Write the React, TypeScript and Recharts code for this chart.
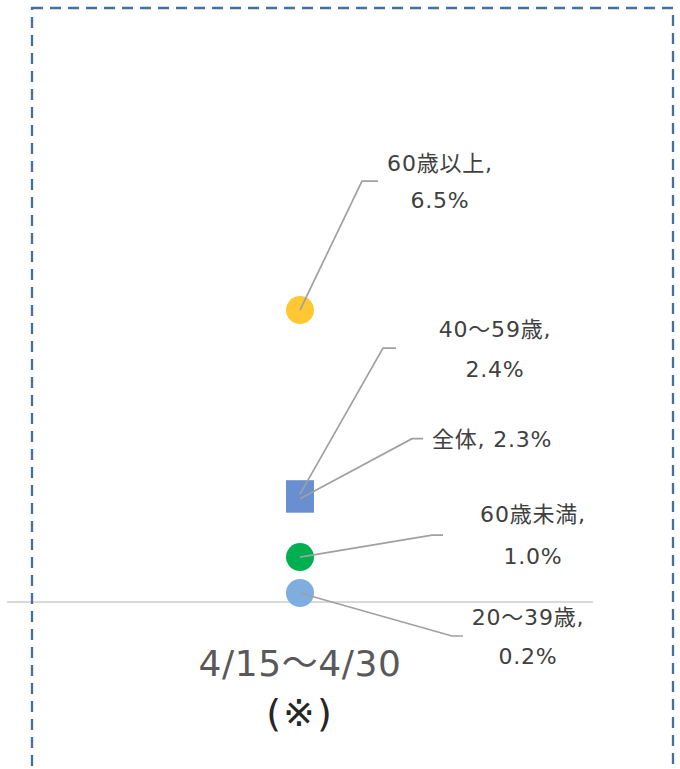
import React from "react";
import { ComposedChart, Scatter, XAxis, YAxis } from "recharts";

const categories = ["4/15～4/30"];
const subLabels = ["(※)"];

const over60 = [6.5];
const age40to59 = [2.4];
const total = [2.3];
const under60 = [1.0];
const age20to39 = [0.2];

const data = categories.map((c, i) => ({
  cat: c,
  over60: over60[i],
  age40to59: age40to59[i],
  total: total[i],
  under60: under60[i],
  age20to39: age20to39[i],
}));

const FONT = "'DejaVu Sans', 'Noto Sans CJK JP', sans-serif";
const LEADER = "#A0A0A0";
const TEXT = "#404040";

const circle = (color: string) => (p: any) => (
  <circle cx={p.cx} cy={p.cy} r={14} fill={color} />
);
const square = (color: string) => (p: any) => (
  <rect x={p.cx - 14} y={p.cy - 14} width={28} height={28} fill={color} />
);

// leader line + label, positions relative to the point
type LabelCfg = {
  elbow: [number, number];
  end: [number, number];
  tx: number;
  ty: number[];
  anchor?: "middle" | "start";
};

const labelShape = (cfg: LabelCfg, value: (p: any) => string[]) => (p: any) => {
  const { cx, cy } = p;
  const lines = value(p);
  return (
    <g>
      <polyline
        points={`${cx},${cy} ${cx + cfg.elbow[0]},${cy + cfg.elbow[1]} ${cx + cfg.end[0]},${cy + cfg.end[1]}`}
        fill="none"
        stroke={LEADER}
        strokeWidth={1.7}
      />
      {lines.map((t, i) => (
        <text
          key={i}
          x={cx + cfg.tx}
          y={cy + cfg.ty[i]}
          textAnchor={cfg.anchor || "middle"}
          dominantBaseline="central"
          fontFamily={FONT}
          fontSize={22}
          letterSpacing={0.8}
          fill={TEXT}
        >
          {t}
        </text>
      ))}
    </g>
  );
};

const pct = (v: number) => v.toFixed(1) + "%";

const CatTick = (props: any) => {
  const { x, y, payload, index } = props;
  return (
    <g>
      <text x={x} y={y + 53} textAnchor="middle" dominantBaseline="central" fontFamily={FONT} fontSize={36} letterSpacing={0.6} fill="#595959">
        {payload.value}
      </text>
      <text x={x} y={y + 103} textAnchor="middle" dominantBaseline="central" fontFamily={FONT} fontSize={38} letterSpacing={2} fill="#262626">
        {subLabels[index]}
      </text>
    </g>
  );
};

export default function App() {
  return (
    <div style={{ position: "absolute", left: 0, top: 0, width: 680, height: 769, background: "#fff" }}>
      <ComposedChart width={680} height={769} data={data} margin={{ top: 63, right: 87, bottom: 67, left: 7 }}>
        <XAxis
          dataKey="cat"
          height={100}
          tickLine={false}
          axisLine={{ stroke: "#D9D9D9", strokeWidth: 2 }}
          tick={<CatTick />}
          interval={0}
        />
        <YAxis hide domain={[0, 12]} />
        <Scatter dataKey="age40to59" isAnimationActive={false} shape={square("#6A8FD0")} />
        <Scatter dataKey="total" isAnimationActive={false} shape={square("#6A8FD0")} />
        <Scatter dataKey="under60" isAnimationActive={false} shape={circle("#00B050")} />
        <Scatter dataKey="age20to39" isAnimationActive={false} shape={circle("#7EADDF")} />
        <Scatter dataKey="over60" isAnimationActive={false} shape={circle("#FFC832")} />

        <Scatter
          dataKey="over60"
          isAnimationActive={false}
          shape={labelShape(
            { elbow: [62, -129], end: [78, -129], tx: 140, ty: [-147, -110] },
            (p) => ["60歳以上,", pct(p.payload.over60)]
          )}
        />
        <Scatter
          dataKey="age40to59"
          isAnimationActive={false}
          shape={labelShape(
            { elbow: [83, -146], end: [96, -146], tx: 195, ty: [-165, -125] },
            (p) => ["40～59歳,", pct(p.payload.age40to59)]
          )}
        />
        <Scatter
          dataKey="total"
          isAnimationActive={false}
          shape={labelShape(
            { elbow: [112, -60], end: [123, -60], tx: 132, ty: [-59], anchor: "start" },
            (p) => ["全体, " + pct(p.payload.total)]
          )}
        />
        <Scatter
          dataKey="under60"
          isAnimationActive={false}
          shape={labelShape(
            { elbow: [132, -22], end: [143, -22], tx: 233, ty: [-43, -1] },
            (p) => ["60歳未満,", pct(p.payload.under60)]
          )}
        />
        <Scatter
          dataKey="age20to39"
          isAnimationActive={false}
          shape={labelShape(
            { elbow: [152, 43], end: [163, 43], tx: 228, ty: [24, 63] },
            (p) => ["20～39歳,", pct(p.payload.age20to39)]
          )}
        />
      </ComposedChart>
      <svg width={680} height={769} style={{ position: "absolute", left: 0, top: 0, pointerEvents: "none" }}>
        <rect x={32} y={8} width={641} height={764} fill="none" stroke="#41719C" strokeWidth={2.3} strokeDasharray="11 7" />
      </svg>
    </div>
  );
}
